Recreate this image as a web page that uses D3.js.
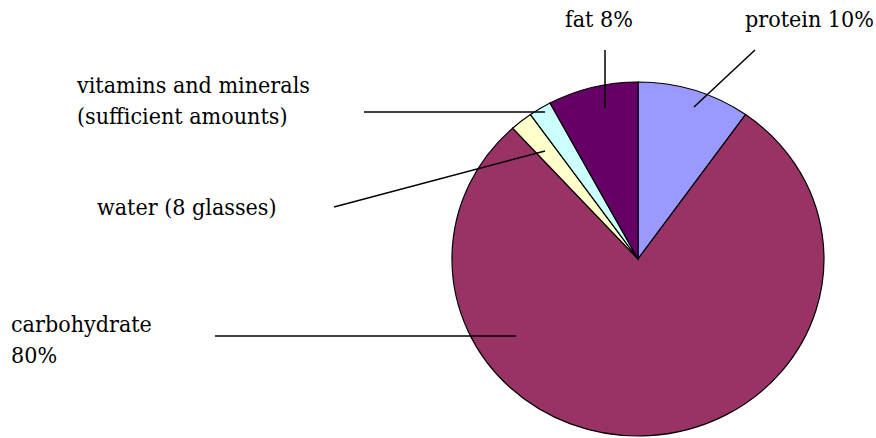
<!DOCTYPE html>
<html>
<head>
<meta charset="utf-8">
<script src="https://cdn.jsdelivr.net/npm/d3@7"></script>
<style>
  body { margin: 0; background: #fff; }
</style>
</head>
<body>
<svg id="chart" width="876" height="438"></svg>
<script>
// Slices, clockwise from 12 o'clock
var categories = ["protein", "carbohydrate", "water", "vitamins and minerals", "fat"];
var values = [10, 80, 2, 2, 8];
var colors = ["#9999FF", "#993366", "#FFFFCC", "#CCFFFF", "#660066"];
var labels = [
    ["protein 10%"],
    ["carbohydrate", "80%"],
    ["water (8 glasses)"],
    ["vitamins and minerals", "(sufficient amounts)"],
    ["fat 8%"]
];

// Label layout: text start + leader line (outer end, inner end)
var labelLayout = [
    { x: 745, y: 27, line: [755, 50, 694, 107] },
    { x: 11, y: 332, line: [215, 336, 516, 336] },
    { x: 97, y: 215, line: [334, 207, 545, 151] },
    { x: 77, y: 93, line: [364, 112, 545, 112] },
    { x: 565, y: 27, line: [605, 50, 605, 108] }
];

var fontFamily = "'DejaVu Serif Condensed', 'DejaVu Serif', serif";

var svg = d3.select("#chart");

// Pie is slightly wider than tall
var cx = 638, cy = 259, rx = 186, ry = 177;

var pie = d3.pie().sort(null).value(function(d) { return d; });
var arc = d3.arc().innerRadius(0).outerRadius(1);
var arcs = pie(values);

var g = svg.append("g")
    .attr("transform", "translate(" + cx + "," + cy + ") scale(" + rx + "," + ry + ")");

g.selectAll("path")
    .data(arcs)
    .enter().append("path")
    .attr("d", arc)
    .attr("fill", function(d, i) { return colors[i]; })
    .attr("stroke", "#000")
    .attr("stroke-width", 1.2)
    .attr("vector-effect", "non-scaling-stroke");

// Leader lines
svg.selectAll("line.leader")
    .data(labelLayout)
    .enter().append("line")
    .attr("class", "leader")
    .attr("x1", function(d) { return d.line[0]; })
    .attr("y1", function(d) { return d.line[1]; })
    .attr("x2", function(d) { return d.line[2]; })
    .attr("y2", function(d) { return d.line[3]; })
    .attr("stroke", "#000")
    .attr("stroke-width", 1.5);

// Fit the font size so the longest label is as wide as in the original (~233px)
var probe = svg.append("text")
    .attr("font-family", fontFamily)
    .attr("font-size", 25)
    .text("vitamins and minerals");
var fontSize = 25 * 233 / probe.node().getComputedTextLength();
probe.remove();

// Labels
labels.forEach(function(lines, i) {
    var t = svg.append("text")
        .attr("x", labelLayout[i].x)
        .attr("y", labelLayout[i].y)
        .attr("font-family", fontFamily)
        .attr("font-size", fontSize)
        .attr("fill", "#000");
    lines.forEach(function(s, j) {
        t.append("tspan")
            .attr("x", labelLayout[i].x)
            .attr("dy", j == 0 ? 0 : 31)
            .text(s);
    });
});
</script>
</body>
</html>
